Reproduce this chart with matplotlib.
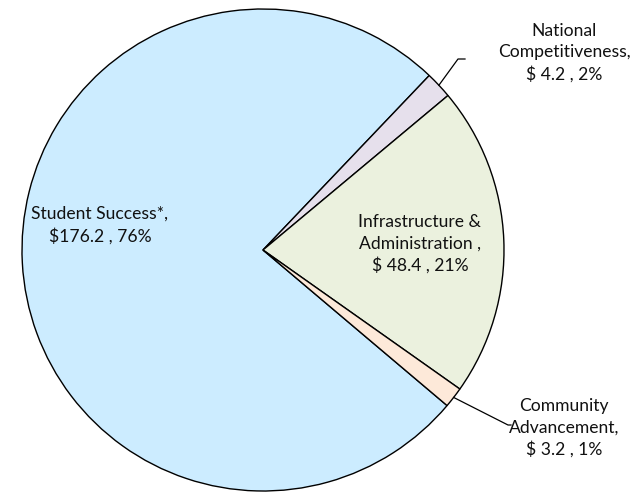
import numpy as np
import matplotlib
matplotlib.use("Agg")
import matplotlib.pyplot as plt

categories = ["Student Success*", "National Competitiveness", "Infrastructure & Administration", "Community Advancement"]
values = [176.2, 4.2, 48.4, 3.2]
percents = [76, 2, 21, 1]
label_texts = [
    "Student Success*,\n$176.2 , 76%",
    "National\nCompetitiveness,\n$ 4.2 , 2%",
    "Infrastructure &\nAdministration ,\n$ 48.4 , 21%",
    "Community\nAdvancement,\n$ 3.2 , 1%",
]
colors = ["#CCECFF", "#E6E0EC", "#EBF1DE", "#FDE9D9"]

W, H = 641, 493
CX, CY, R = 263, 250, 241

def px(x, y):
    return ((x - CX) / R, (CY - y) / R)

fig = plt.figure(figsize=(W / 100, H / 100), dpi=100)
ax = fig.add_axes([0, 0, 1, 1])

wedges, _ = ax.pie(values, colors=colors, startangle=319.8, counterclock=False,
                   radius=1.0, center=(0, 0), frame=True,
                   wedgeprops=dict(edgecolor="black", linewidth=1.0))
ax.set_xlim(-CX / R, (W - CX) / R)
ax.set_ylim(-(H - CY) / R, CY / R)
ax.set_aspect("auto")
ax.axis("off")

font = dict(family=["Lato", "DejaVu Sans"], fontsize=12.6, color="#111111",
            ha="center", va="center", linespacing=1.42)

# inside labels
ax.text(*px(100, 225), label_texts[0], **font)
ax.text(*px(420, 244), label_texts[2], **font)
# outside labels
ax.text(*px(564, 53), label_texts[1], **font)
ax.text(*px(564, 428), label_texts[3], **font)

# leader lines
def leader(w, elbow, end):
    mid = np.deg2rad((w.theta1 + w.theta2) / 2)
    sx, sy = np.cos(mid), np.sin(mid)
    ex, ey = px(*elbow)
    fx, fy = px(*end)
    ax.plot([sx, ex, fx], [sy, ey, fy], color="black", linewidth=0.9)

leader(wedges[1], (458, 59), (465, 59))
leader(wedges[3], (508, 425), (511, 425))

fig.savefig("out.png", dpi=100)
